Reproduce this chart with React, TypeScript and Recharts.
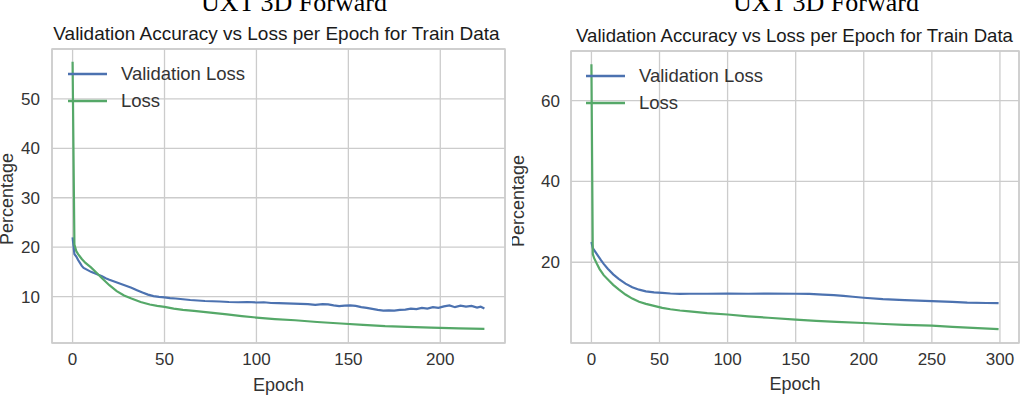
import React from 'react';
import {
  LineChart,
  Line,
  XAxis,
  YAxis,
  CartesianGrid,
  ReferenceArea,
  Legend,
  Label,
} from 'recharts';

const FONT = "'Liberation Sans', Arial, Helvetica, sans-serif";
const SERIF = "'Liberation Serif', 'Times New Roman', serif";
const BLUE = '#4C72B0';
const GREEN = '#55A868';
const GRID = '#cccccc';
const TEXT = '#333333';

const SUPER_TITLE = 'UXT 3D Forward';
const SUB_TITLE = 'Validation Accuracy vs Loss per Epoch for Train Data';
const X_LABEL = 'Epoch';
const Y_LABEL = 'Percentage';
const VAL_NAME = 'Validation Loss';
const LOSS_NAME = 'Loss';
const LEGEND_ORDER = [VAL_NAME, LOSS_NAME];

// ---------- Left panel (225 epochs) ----------
const leftXTicks = [0, 50, 100, 150, 200];
const leftYTicks = [10, 20, 30, 40, 50];

const leftValEpochs = [
  0, 1, 2, 3, 4, 5, 6, 8, 10, 12, 14, 16, 18, 20, 23, 26, 29, 32, 35, 38, 41, 44, 47, 50, 53, 56,
  60, 64, 68, 72, 76, 80, 85, 90, 95, 100, 104, 108, 112, 116, 120, 124, 128, 132, 136, 139, 142,
  145, 148, 151, 154, 157, 160, 163, 166, 169, 172, 175, 178, 181, 184, 187, 190, 193, 196, 199,
  202, 205, 208, 211, 214, 217, 220, 222, 224,
];
const leftValLoss = [
  22.0, 18.6, 18.1, 17.4, 16.8, 16.2, 15.8, 15.4, 15.0, 14.7, 14.4, 14.1, 13.7, 13.4, 13.0, 12.6,
  12.2, 11.8, 11.3, 10.8, 10.4, 10.1, 9.95, 9.85, 9.7, 9.6, 9.45, 9.3, 9.2, 9.1, 9.05, 9.0, 8.9,
  8.85, 8.9, 8.8, 8.85, 8.7, 8.65, 8.6, 8.55, 8.5, 8.45, 8.3, 8.45, 8.4, 8.2, 8.05, 8.15, 8.2, 8.1,
  7.85, 7.7, 7.5, 7.3, 7.15, 7.2, 7.15, 7.3, 7.35, 7.55, 7.45, 7.7, 7.55, 7.85, 7.7, 8.0, 8.2,
  7.85, 8.15, 7.95, 8.1, 7.75, 7.95, 7.6,
];
const leftLossEpochs = [
  0, 1, 2, 3, 5, 7, 10, 13, 16, 20, 24, 28, 32, 37, 42, 46, 50, 55, 60, 66, 75, 84, 92, 100, 110,
  121, 133, 146, 158, 170, 182, 195, 210, 224,
];
const leftLoss = [
  57.5, 20.5, 19.2, 18.6, 17.6, 16.8, 15.9, 14.8, 13.7, 12.3, 11.1, 10.2, 9.6, 8.9, 8.4, 8.1, 7.9,
  7.55, 7.3, 7.1, 6.75, 6.4, 6.05, 5.75, 5.45, 5.2, 4.85, 4.55, 4.25, 4.0, 3.85, 3.7, 3.55, 3.45,
];

// ---------- Right panel (300 epochs) ----------
const rightXTicks = [0, 50, 100, 150, 200, 250, 300];
const rightYTicks = [20, 40, 60];

const rightValEpochs = [
  0, 1, 2, 3, 4, 7, 9, 12, 16, 20, 25, 30, 35, 40, 46, 52, 58, 65, 72, 85, 100, 115, 130, 150, 160,
  170, 178, 185, 192, 200, 214, 230, 250, 265, 276, 290, 299,
];
const rightValLoss = [
  25.0, 23.5, 23.0, 22.5, 22.0, 20.5, 19.6, 18.4, 17.0, 15.9, 14.7, 13.8, 13.2, 12.8, 12.55, 12.4,
  12.25, 12.15, 12.2, 12.2, 12.25, 12.2, 12.25, 12.2, 12.15, 12.0, 11.85, 11.65, 11.45, 11.2,
  10.85, 10.6, 10.35, 10.2, 10.0, 9.9, 9.85,
];
const rightLossEpochs = [
  0, 1, 2, 4, 6, 9, 13, 16, 20, 25, 30, 35, 40, 46, 52, 58, 65, 72, 85, 100, 115, 130, 150, 165,
  180, 200, 215, 230, 250, 265, 280, 299,
];
const rightLoss = [
  69.0, 22.0, 21.0, 19.6, 18.3, 16.8, 15.4, 14.4, 13.3, 12.0, 11.0, 10.2, 9.7, 9.2, 8.7, 8.35,
  8.05, 7.85, 7.4, 7.05, 6.6, 6.25, 5.8, 5.5, 5.25, 4.95, 4.7, 4.5, 4.3, 4.0, 3.75, 3.45,
];

const zip = (xs: number[], ys: number[]) => xs.map((e, i) => ({ epoch: e, value: ys[i] }));

type PanelProps = {
  left: number;
  width: number;
  height: number;
  plotLeft: number;
  plotRight: number;
  plotTop: number;
  plotBottom: number;
  xDomain: [number, number];
  yDomain: [number, number];
  xTicks: number[];
  yTicks: number[];
  valData: { epoch: number; value: number }[];
  lossData: { epoch: number; value: number }[];
  legendLeft: number;
  legendTop: number;
  yLabelOffset: number;
  yLabelShift: number;
  xLabelOffset: number;
  yTickMargin: number;
};

const legendContent = (props: any) => {
  const payload = [...(props.payload || [])].sort(
    (a: any, b: any) => LEGEND_ORDER.indexOf(a.value) - LEGEND_ORDER.indexOf(b.value)
  );
  return (
    <div style={{ fontFamily: FONT, fontSize: 18.5, color: TEXT }}>
      {payload.map((p: any) => (
        <div key={p.value} style={{ display: 'flex', alignItems: 'center', height: 27 }}>
          <svg width={39} height={4} style={{ display: 'block', marginRight: 14 }}>
            <line x1={0} y1={2} x2={39} y2={2} stroke={p.color} strokeWidth={2.5} />
          </svg>
          <span style={{ whiteSpace: 'nowrap', lineHeight: '27px' }}>{p.value}</span>
        </div>
      ))}
    </div>
  );
};

const Y_AXIS_W = 40;
const X_AXIS_H = 30;

function Panel(p: PanelProps) {
  const tickStyle = { fill: TEXT, fontSize: 17, fontFamily: FONT };
  const margin = {
    top: p.plotTop,
    left: p.plotLeft - Y_AXIS_W,
    right: p.width - p.plotRight,
    bottom: p.height - p.plotBottom - X_AXIS_H,
  };
  return (
    <div style={{ position: 'absolute', left: p.left, top: 0, width: p.width, height: p.height }}>
      <LineChart width={p.width} height={p.height} margin={margin}>
        <CartesianGrid stroke={GRID} strokeWidth={1.3} />
        <XAxis
          type="number"
          dataKey="epoch"
          domain={p.xDomain}
          allowDataOverflow
          ticks={p.xTicks}
          height={X_AXIS_H}
          tickSize={0}
          tickMargin={10}
          axisLine={false}
          tickLine={false}
          tick={tickStyle}
          interval={0}
        >
          <Label
            value={X_LABEL}
            content={(lp: any) => {
              const vb = lp.viewBox || { x: 0, y: 0, width: 0, height: 0 };
              const cx = vb.x + vb.width / 2;
              const cy = vb.y + p.xLabelOffset;
              return (
                <text x={cx} y={cy} textAnchor="middle" fill={TEXT} fontSize={18} fontFamily={FONT}>
                  {X_LABEL}
                </text>
              );
            }}
          />
        </XAxis>
        <YAxis
          type="number"
          domain={p.yDomain}
          allowDataOverflow
          ticks={p.yTicks}
          width={Y_AXIS_W}
          tickSize={0}
          tickMargin={p.yTickMargin}
          axisLine={false}
          tickLine={false}
          tick={tickStyle}
          interval={0}
        >
          <Label
            value={Y_LABEL}
            content={(lp: any) => {
              const vb = lp.viewBox || { x: 0, y: 0, width: 0, height: 0 };
              const cx = vb.x + vb.width - p.yLabelOffset;
              const cy = vb.y + vb.height / 2 + p.yLabelShift;
              return (
                <text
                  x={cx}
                  y={cy}
                  transform={`rotate(-90, ${cx}, ${cy})`}
                  textAnchor="middle"
                  fill={TEXT}
                  fontSize={18}
                  fontFamily={FONT}
                >
                  {Y_LABEL}
                </text>
              );
            }}
          />
        </YAxis>
        <ReferenceArea
          x1={p.xDomain[0]}
          x2={p.xDomain[1]}
          y1={p.yDomain[0]}
          y2={p.yDomain[1]}
          fill="none"
          fillOpacity={0}
          stroke={GRID}
          strokeWidth={1.5}
          ifOverflow="visible"
        />
        <Line
          data={p.valData}
          dataKey="value"
          name={VAL_NAME}
          stroke={BLUE}
          strokeWidth={2.2}
          dot={false}
          activeDot={false}
          type="linear"
          isAnimationActive={false}
        />
        <Line
          data={p.lossData}
          dataKey="value"
          name={LOSS_NAME}
          stroke={GREEN}
          strokeWidth={2.2}
          dot={false}
          activeDot={false}
          type="linear"
          isAnimationActive={false}
        />
        <Legend
          layout="vertical"
          align="center"
          verticalAlign="middle"
          content={legendContent}
          wrapperStyle={{ left: p.legendLeft, top: p.legendTop, width: 260, height: 60 }}
        />
      </LineChart>
    </div>
  );
}

const titleStyle = (centerX: number, top: number, size: number, family: string) => ({
  position: 'absolute' as const,
  left: centerX - 300,
  width: 600,
  top,
  textAlign: 'center' as const,
  fontSize: size,
  lineHeight: 1,
  fontFamily: family,
  color: '#1a1a1a',
  whiteSpace: 'nowrap' as const,
});

export default function App() {
  return (
    <div
      style={{
        position: 'absolute',
        left: 0,
        top: 0,
        width: 1023,
        height: 396,
        overflow: 'hidden',
        background: '#ffffff',
      }}
    >
      <Panel
        left={0}
        width={512}
        height={396}
        plotLeft={52}
        plotRight={505}
        plotTop={49}
        plotBottom={343}
        xDomain={[-11.2, 235.2]}
        yDomain={[0.6, 60.1]}
        xTicks={leftXTicks}
        yTicks={leftYTicks}
        valData={zip(leftValEpochs, leftValLoss)}
        lossData={zip(leftLossEpochs, leftLoss)}
        legendLeft={68}
        legendTop={60}
        yLabelOffset={39}
        yLabelShift={3}
        xLabelOffset={48}
        yTickMargin={12}
      />
      <Panel
        left={512}
        width={511}
        height={396}
        plotLeft={59}
        plotRight={507}
        plotTop={51}
        plotBottom={343}
        xDomain={[-15, 314]}
        yDomain={[0, 72.3]}
        xTicks={rightXTicks}
        yTicks={rightYTicks}
        valData={zip(rightValEpochs, rightValLoss)}
        lossData={zip(rightLossEpochs, rightLoss)}
        legendLeft={74}
        legendTop={62}
        yLabelOffset={47}
        yLabelShift={4}
        xLabelOffset={47}
        yTickMargin={11}
      />
      <div style={{ ...titleStyle(294, -10, 26, SERIF), color: '#000' }}>{SUPER_TITLE}</div>
      <div style={{ ...titleStyle(826, -10, 26, SERIF), color: '#000' }}>{SUPER_TITLE}</div>
      <div style={titleStyle(276.5, 24, 19, FONT)}>{SUB_TITLE}</div>
      <div style={titleStyle(794.5, 27, 18.6, FONT)}>{SUB_TITLE}</div>
    </div>
  );
}
